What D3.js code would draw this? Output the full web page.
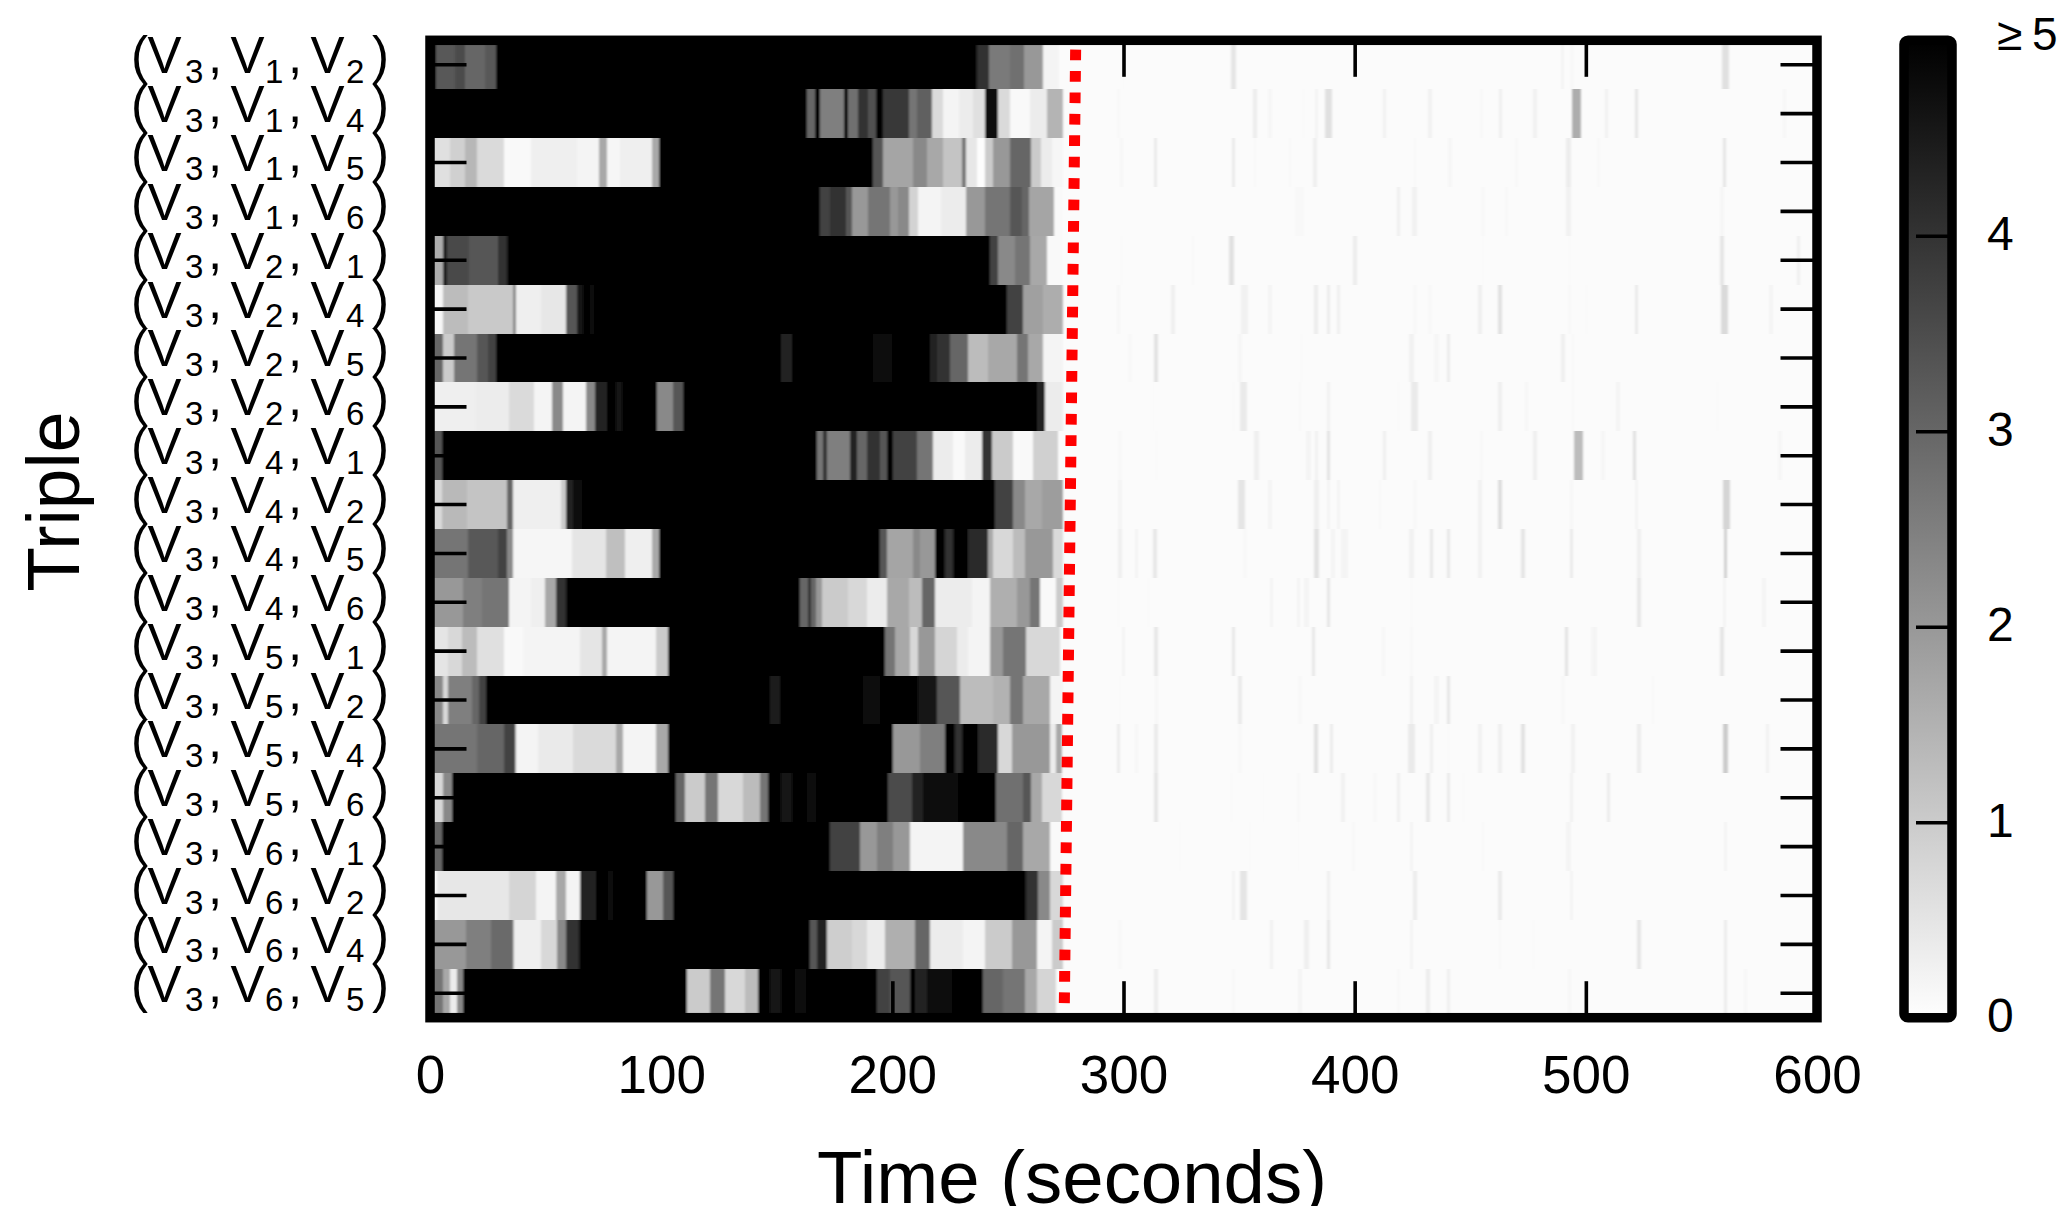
<!DOCTYPE html>
<html>
<head>
<meta charset="utf-8">
<script src="https://cdnjs.cloudflare.com/ajax/libs/d3/7.8.5/d3.min.js"></script>
<style>
  html, body { margin: 0; padding: 0; background: #fff; }
  svg { display: block; }
  text { font-family: "Liberation Sans", Arial, sans-serif; fill: #000; }
</style>
</head>
<body>
<div id="chart"></div>
<script>
// triple labels: [V index, V index, V index]
const triples = [
  [3,1,2],[3,1,4],[3,1,5],[3,1,6],[3,2,1],[3,2,4],[3,2,5],[3,2,6],[3,4,1],[3,4,2],
  [3,4,5],[3,4,6],[3,5,1],[3,5,2],[3,5,4],[3,5,6],[3,6,1],[3,6,2],[3,6,4],[3,6,5]
]
const xTicks = [0, 100, 200, 300, 400, 500, 600]
const cbarTicks = [0, 1, 2, 3, 4, 5]

// each row: [start second, value], value holds until the next start
const seg01 = [[0,5],[2.6,3.25],[11,3.5],[15,3],[24,3.25],[28.6,5],[236.5,4],[242,2.6],[251,2.8],[257,2],[265,.2],[272,.05]]
const seg02 = [[0,5],[163,3],[166.5,5],[168.5,2.5],[179,5],[181,2.8],[185,4],[189.6,3.4],[193,5],[196,3.9],[207,2.7],[210.5,3.1],[217,.7],[222,.2],[229,.35],[235,.6],[240,4.7],[245.8,.7],[251,.1],[259.5,.35],[266.7,1.45],[274,.05]]
const seg03 = [[0,.6],[8.8,.9],[15,1.4],[20.4,.7],[32,.1],[43.5,.3],[63.6,.2],[73,1.7],[76.7,.15],[82,.3],[96,1.7],[99.1,5],[191.8,3.3],[196,1.75],[209,2.3],[215,1.7],[222,1.15],[230,2.7],[232,.45],[236.5,.02],[240,1],[243.6,2],[251,3],[260,1],[264.5,.35],[269,.15],[274,.05]]
const seg04 = [[0,5],[168.7,3.7],[173,4],[180,3.3],[182.4,2],[189.6,2.7],[199,2],[202.6,2.3],[207,.85],[211,.2],[221,.35],[232,2],[240,2.7],[251,3.3],[256,3],[259,1.75],[270,.1],[274,.05]]
const seg05 = [[0,1.6],[5.7,4.4],[7.2,3.55],[17,3.3],[29.6,4],[33.5,5],[242.2,3.7],[245.8,2.3],[253,2.7],[259.5,1.7],[266.7,.1],[274,.05]]
const seg06 = [[0,.15],[5.7,1.3],[16.5,1.05],[35.8,2.3],[37.4,.3],[48,.45],[59,3.3],[63.6,4.5],[66.4,5],[69.5,4.6],[70.5,5],[249.4,3.7],[256.4,1.85],[265.3,1.6],[274,.05]]
const seg07 = [[0,3],[5.7,1],[10.3,2.7],[20.4,3.3],[25,3.7],[28.6,5],[151.7,4.3],[156.5,5],[191.8,4.7],[199.7,5],[216.3,4.3],[219.2,4],[225,3],[232.9,1.3],[241.5,1.7],[253.8,2.7],[258.8,1.7],[265.3,.2],[274,.05]]
const seg08 = [[0,.3],[20,.35],[34.3,.7],[45,.2],[52.8,2.3],[57.4,.2],[67.5,2.3],[71.3,4.3],[76.7,5],[80.6,4.6],[82.9,5],[98.4,2.3],[105,3.3],[109.6,5],[262.4,4.3],[266,.35],[274,.05]]
const seg09 = [[0,3.3],[5.4,5],[167.3,2.7],[170,4],[171.6,2.5],[181.7,4.3],[184.6,3],[188.9,4],[194.6,3.3],[197.5,5],[200.4,3.7],[210.5,2.7],[217.7,.35],[226.4,.1],[231.4,.35],[238.6,4],[243,1],[252.3,.1],[261,.9],[271.8,.05]]
const seg10 = [[0,.7],[5,1.35],[16,1.15],[33.5,3],[35.8,.3],[56.6,1],[59,4.3],[61.7,4.7],[65.9,5],[244.4,3.7],[252.3,2.3],[257.4,1.7],[264.6,1.9],[274,.05]]
const seg11 = [[0,2.7],[16.5,3.25],[29.6,3.7],[33.5,2.3],[35.8,.15],[61.3,.5],[76,1.25],[84.5,.3],[96,1.7],[99.1,5],[194.6,3.3],[197.5,1.75],[209,2.3],[212,2],[218.4,5],[222.8,4],[226.4,5],[232.9,4.2],[241.5,1.7],[243.6,.75],[252.3,1.3],[257.4,2],[269.6,.7],[274,.05]]
const seg12 = [[0,2],[14.2,2.5],[22.7,2.7],[34.3,.2],[43.5,.3],[49.7,1.7],[54.3,4],[59,5],[160,3],[163.7,4],[165,3],[167,2],[169.4,1],[181,.75],[188.9,.35],[197.5,1.7],[207,1.3],[212.7,3],[218.4,.35],[234.3,.2],[242.2,1.55],[253.8,2],[259.5,2.7],[263.9,.1],[271,1],[274,.05]]
const seg13 = [[0,.5],[8,.75],[14,1.3],[20.4,.6],[32,.1],[40.4,.2],[65,.5],[74.4,1.7],[76.7,.2],[97.6,1],[103,5],[196.8,2.7],[201.1,1.7],[207.6,.75],[211.2,2],[218.4,.8],[227.8,.35],[232.9,.2],[242.2,2],[248,2.7],[258,.75],[272.5,.05]]
const seg14 = [[0,2.3],[5.7,.75],[8,2.5],[18,3],[21,3.7],[24.2,5],[147,4.4],[151.4,5],[187.4,4.7],[194.6,5],[211.2,4.5],[219.2,3.3],[229.3,1.3],[243.7,1.5],[251,2.7],[256.7,1.7],[268,.2],[274,.05]]
const seg15 = [[0,2.7],[20.4,3],[32,3.7],[36.6,2],[37.4,.2],[46.6,.4],[62,.7],[80.6,1.7],[83.7,.2],[97.6,1.7],[103,5],[200.4,2],[212,2.5],[222.8,5],[227.1,4],[230,5],[237.2,4.2],[245.8,.75],[251.6,2],[268.2,.35],[271,1.7],[273.2,.05]]
const seg16 = [[0,.75],[5.7,2.3],[9.5,5],[106.4,3],[110.3,1],[119,2.7],[124.7,.75],[135.5,1.3],[142.8,2.7],[146.4,5],[152,4.5],[156.5,5],[163,4.7],[167,5],[198.3,3.5],[208.4,4.3],[213.4,4.7],[228.5,5],[245,2.8],[256.7,3.3],[260.2,1.7],[264.6,.75],[273.2,.05]]
const seg17 = [[0,3],[5.4,5],[173,3.7],[186,2],[193.2,2.5],[200.4,2],[207.6,.2],[230.7,2.3],[249.4,3],[256.7,1.7],[268.2,.1],[274,.05]]
const seg18 = [[0,.1],[3,.45],[34.3,.8],[45.8,.2],[54.3,1.7],[59,.2],[65,4.3],[72,5],[77,4.7],[79,5],[93.7,2],[100.7,3.3],[105.3,5],[258,4],[263,2.3],[268.2,.75],[274,.05]]
const seg19 = [[0,2],[15.7,2.5],[26.5,2.9],[35.8,1.5],[36.5,.3],[48,.75],[55,2.3],[59,4],[64.4,5],[164.4,3.3],[167.3,4.3],[171.6,.95],[182.4,.75],[188.9,.35],[196.8,1.55],[209.8,3],[216.3,.35],[230.7,.2],[240,1],[251.6,2],[262.4,.2],[268.9,1],[274,.05]]
const seg20 = [[0,2.7],[5.7,1.7],[8.8,.35],[11.8,2.3],[14.2,5],[111,1],[121,2.7],[127.6,.75],[136.3,1.3],[142,5],[147,4.5],[151.7,5],[157.9,4.7],[162.6,5],[193.2,3.7],[199,3.3],[207.6,5],[209.8,4.3],[214.8,4.7],[225.6,5],[239.4,3],[248,2.7],[257.4,1.7],[262.4,.8],[271,.05]]

// thin stripes in the quiet part: [centre second, value, seconds wide if not thin]
const pale01 = [[300,.08],[347.5,.5,2],[490,.2],[494,.12],[560.5,.6,3]]
const pale02 = [[297.8,.12],[356.9,.35],[363.4,.15],[377.8,.1],[383.5,.2],[388.6,.6,3],[413,.25],[432.6,.25],[454.9,.12],[463.1,.3],[478,.25],[496,1.6,4],[509,.25],[522,.5],[586,.15]]
const pale03 = [[299.2,.15],[313.9,.4],[347.5,.4],[356.9,.1],[372,.1],[382.8,.3],[426,.1],[441.2,.15],[470,.12],[492.4,.35,2],[505.4,.12],[560,.5]]
const pale04 = [[376,.12,4],[418.9,.3],[426,.25,2],[455.6,.12],[465.7,.12],[492.4,.25,2],[559,.15]]
const pale05 = [[299.2,.1],[330,.1],[346.8,.6,2],[400.1,.35],[455.6,.08],[493,.1],[559,.5],[592,.3]]
const pale06 = [[297.8,.15],[321.5,.3],[352.5,.25,3],[363.4,.2],[383.2,.35,2],[388.6,.35],[392.9,.3],[426,.12],[432.6,.12],[454.2,.3],[462.8,.6,2],[493,.12],[500.3,.1],[522,.4],[560,.7,3],[580,.2]]
const pale07 = [[302.8,.12],[314,.55],[350.4,.15],[377,.1],[424.6,.25,2],[435.4,.15,2],[440.5,.35],[490.2,.3],[494.5,.1]]
const pale08 = [[312.9,.08],[347.5,.1],[351.8,.4,3],[376.3,.1],[388.6,.25],[418.9,.1],[426,.4,3],[462.8,.3],[474.4,.15],[494.5,.1],[514,.2],[557,.1]]
const pale09 = [[298.5,.12],[314.3,.1],[357.6,.3,2],[380,.2,2],[383.5,.25],[388.6,.55],[412.8,.3],[432.6,.3],[454.9,.12],[478,.3,2],[496.7,1.3,4],[507.5,.15],[521,.6],[584,.15]]
const pale10 = [[298.5,.2],[351.1,.5,3],[363.4,.2],[383.5,.3,2],[388.6,.2],[392.9,.2],[411,.1],[426,.12],[454.2,.25],[462.8,.65,2],[493.8,.15],[522,.2],[561,.8,3]]
const pale11 = [[298.5,.3],[305.7,.2],[313.6,.45,2],[352.5,.12],[383.5,.55,2.5],[390.7,.2],[395.8,.2,3],[424.6,.25,2],[433.3,.45],[440.5,.45],[454.2,.25],[472.9,.5],[493.8,.4],[523,.3],[560.5,.9]]
const pale12 = [[297.8,.1],[310.7,.1],[364,.2],[375.6,.2],[379.2,.2,2],[388.6,.5],[424.6,.1],[523,.45],[560,.2],[577,.2]]
const pale13 = [[299.9,.2],[314,.45],[347.5,.45],[382.1,.45],[412.4,.15],[424.6,.12],[491.7,.55],[503,.15],[504,.2],[559,.5]]
const pale14 = [[298.5,.08],[314.3,.15],[350.4,.4],[376.3,.12],[424.6,.25],[435.4,.2,2],[440.5,.5],[490.2,.12],[529,.1]]
const pale15 = [[297.8,.35],[305.7,.15],[314,.4,2],[350.4,.12],[383.2,.6,2],[390,.35],[424.6,.4,3],[433.3,.3],[440.5,.1],[454.2,.25],[462.8,.3,2],[472.9,.55],[494.5,.25],[523,.35],[560.5,1,2],[578.5,.25]]
const pale16 = [[314,.5],[346.8,.1],[360.5,.08],[375.6,.12],[395,.25],[408.8,.12],[418.9,.3],[431.8,.45],[440.5,.4],[447,.1],[493.8,.25],[509.7,.35]]
const pale17 = [[324.4,.08],[354.7,.08],[375.6,.08],[399.4,.12],[424.6,.2],[455.6,.1],[492.4,.2,2],[560.5,.2]]
const pale18 = [[347.5,.2],[351.8,.5,3],[388.6,.3],[426,.35],[462.8,.4],[493.8,.2]]
const pale19 = [[298.5,.12],[364,.25],[379.2,.3,2],[388.6,.5],[424.6,.2],[462.8,.1],[477.3,.1],[523,.5],[560.5,.35]]
const pale20 = [[314,.35],[347.5,.12],[376.3,.2],[418.9,.12],[431.8,.35],[440.5,.3],[493,.15],[560.5,.35],[569,.15]]

// change point line, [second, row position]
const changeLine = [[279.3, 0.19], [274.4, 19.73]]

const rowSegs = [seg01,seg02,seg03,seg04,seg05,seg06,seg07,seg08,seg09,seg10,seg11,seg12,seg13,seg14,seg15,seg16,seg17,seg18,seg19,seg20]
const rowPale = [pale01,pale02,pale03,pale04,pale05,pale06,pale07,pale08,pale09,pale10,pale11,pale12,pale13,pale14,pale15,pale16,pale17,pale18,pale19,pale20]

const width = 2060, height = 1206
const plot = { left: 430, right: 1817, top: 40.3, bottom: 1017.7 }
const cbar = { left: 1904, right: 1952 }
const frameW = 9.5, tickLen = 36.5
const thinSeconds = 1.5

const svg = d3.select('#chart').append('svg')
  .attr('width', width).attr('height', height)

const x = d3.scaleLinear().domain([0, 600]).range([plot.left, plot.right])
const rowIdx = d3.range(triples.length)
const y = d3.scaleBand().domain(rowIdx).range([plot.top, plot.bottom])
const rowPos = d3.scaleLinear().domain([0, triples.length]).range([plot.top, plot.bottom])
const cy = d3.scaleLinear().domain([0, 5]).range([plot.bottom, plot.top])
const gray = d3.scaleLinear().domain([0, 5]).range(['#fefefe', '#000000'])

const defs = svg.append('defs')
defs.append('clipPath').attr('id', 'plotClip').append('rect')
  .attr('x', plot.left).attr('y', plot.top)
  .attr('width', plot.right - plot.left).attr('height', plot.bottom - plot.top)
const blur = defs.append('filter').attr('id', 'soft')
  .attr('filterUnits', 'userSpaceOnUse')
  .attr('x', 400).attr('y', 0).attr('width', 1450).attr('height', 1060)
blur.append('feGaussianBlur').attr('stdDeviation', '1.1 0.5')

// heat map
const cells = svg.append('g').attr('clip-path', 'url(#plotClip)')
  .append('g').attr('filter', 'url(#soft)')

rowSegs.forEach((segs, r) => {
  const g = cells.append('g').attr('class', 'row')
  g.selectAll('rect.seg').data(segs).join('rect')
    .attr('class', 'seg')
    .attr('x', d => x(d[0]))
    .attr('y', y(r))
    .attr('width', (d, i) => x(i < segs.length - 1 ? segs[i + 1][0] : 600) - x(d[0]))
    .attr('height', y.bandwidth())
    .attr('fill', d => gray(d[1]))
    .attr('shape-rendering', 'crispEdges')
  g.selectAll('rect.pale').data(rowPale[r]).join('rect')
    .attr('class', 'pale')
    .attr('x', d => x(d[0] - (d[2] || thinSeconds) / 2))
    .attr('y', y(r))
    .attr('width', d => x(d[2] || thinSeconds) - x(0))
    .attr('height', y.bandwidth())
    .attr('fill', d => gray(d[1]))
    .attr('shape-rendering', 'crispEdges')
})

// change point line
svg.append('line')
  .attr('x1', x(changeLine[0][0])).attr('y1', rowPos(changeLine[0][1]))
  .attr('x2', x(changeLine[1][0])).attr('y2', rowPos(changeLine[1][1]))
  .attr('stroke', '#ff0000').attr('stroke-width', 11)
  .attr('stroke-dasharray', '10.7 10.73')

// axes, ticks point inwards
const styleAxis = g => {
  g.select('.domain').remove()
  g.selectAll('.tick line').attr('stroke', '#000').attr('stroke-width', 3.6)
}
svg.append('g').attr('transform', `translate(0,${plot.bottom})`)
  .call(d3.axisBottom(x).tickValues(xTicks).tickSize(-tickLen).tickPadding(0))
  .call(styleAxis)
  .call(g => g.selectAll('.tick text')
    .attr('y', 1093 - plot.bottom).attr('dy', 0)
    .style('font-size', '53px').style('font-family', '"Liberation Sans", Arial, sans-serif'))
svg.append('g').attr('transform', `translate(0,${plot.top})`)
  .call(d3.axisTop(x).tickValues(xTicks).tickSize(-tickLen).tickFormat(''))
  .call(styleAxis)

svg.append('g').attr('transform', `translate(${plot.left},0)`)
  .call(d3.axisLeft(y).tickSize(-tickLen).tickFormat(''))
  .call(styleAxis)
svg.append('g').attr('transform', `translate(${plot.right},0)`)
  .call(d3.axisRight(y).tickSize(-tickLen).tickFormat(''))
  .call(styleAxis)

// frame
svg.append('rect')
  .attr('x', plot.left).attr('y', plot.top)
  .attr('width', plot.right - plot.left).attr('height', plot.bottom - plot.top)
  .attr('fill', 'none').attr('stroke', '#000').attr('stroke-width', frameW)

// row labels, one text per row, pieces placed with tspans
const labelG = svg.append('g')
triples.forEach((t, r) => {
  const mid = y(r) + y.bandwidth() / 2
  const label = labelG.append('text')
  const big = (s, px) => label.append('tspan').attr('x', px).attr('y', mid + 8.5)
    .style('font-size', '51px').text(s)
  const sub = (s, px) => label.append('tspan').attr('x', px).attr('y', mid + 18)
    .style('font-size', '33px').text(s)
  big('(', 131); big('V', 147.5); sub(t[0], 185)
  big(',', 208); big('V', 230.5); sub(t[1], 265)
  big(',', 288); big('V', 310.5); sub(t[2], 346)
  big(')', 372)
})

// titles
svg.append('text').attr('x', 1072).attr('y', 1202.7).attr('text-anchor', 'middle')
  .attr('textLength', 510).attr('lengthAdjust', 'spacingAndGlyphs')
  .style('font-size', '74px').text('Time (seconds)')
svg.append('text').attr('transform', 'translate(79,501.7) rotate(-90)').attr('text-anchor', 'middle')
  .attr('textLength', 180).attr('lengthAdjust', 'spacingAndGlyphs')
  .style('font-size', '74px').text('Triple')

// colour bar
const grad = defs.append('linearGradient').attr('id', 'cbarFill')
  .attr('x1', 0).attr('x2', 0).attr('y1', 1).attr('y2', 0)
grad.selectAll('stop').data(cbarTicks).join('stop')
  .attr('offset', d => d / 5)
  .attr('stop-color', d => gray(d))
svg.append('rect')
  .attr('x', cbar.left).attr('y', plot.top)
  .attr('width', cbar.right - cbar.left).attr('height', plot.bottom - plot.top)
  .attr('fill', 'url(#cbarFill)')
svg.append('g').attr('transform', `translate(${cbar.right},0)`)
  .call(d3.axisLeft(cy).tickValues(cbarTicks.slice(1, 5)).tickSize(36).tickFormat(''))
  .call(styleAxis)
svg.append('rect')
  .attr('x', cbar.left).attr('y', plot.top)
  .attr('width', cbar.right - cbar.left).attr('height', plot.bottom - plot.top)
  .attr('rx', 4).attr('fill', 'none').attr('stroke', '#000').attr('stroke-width', frameW)

svg.append('g').selectAll('text').data(cbarTicks.slice(0, 5)).join('text')
  .attr('x', 1987).attr('y', d => cy(d) + 14.5)
  .style('font-size', '48px').text(d => d)
const topLabel = svg.append('text').attr('y', 50).style('font-size', '46px')
topLabel.append('tspan').attr('x', 1997).text('≥')
topLabel.append('tspan').attr('x', 2032).text('5')
</script>
</body>
</html>
